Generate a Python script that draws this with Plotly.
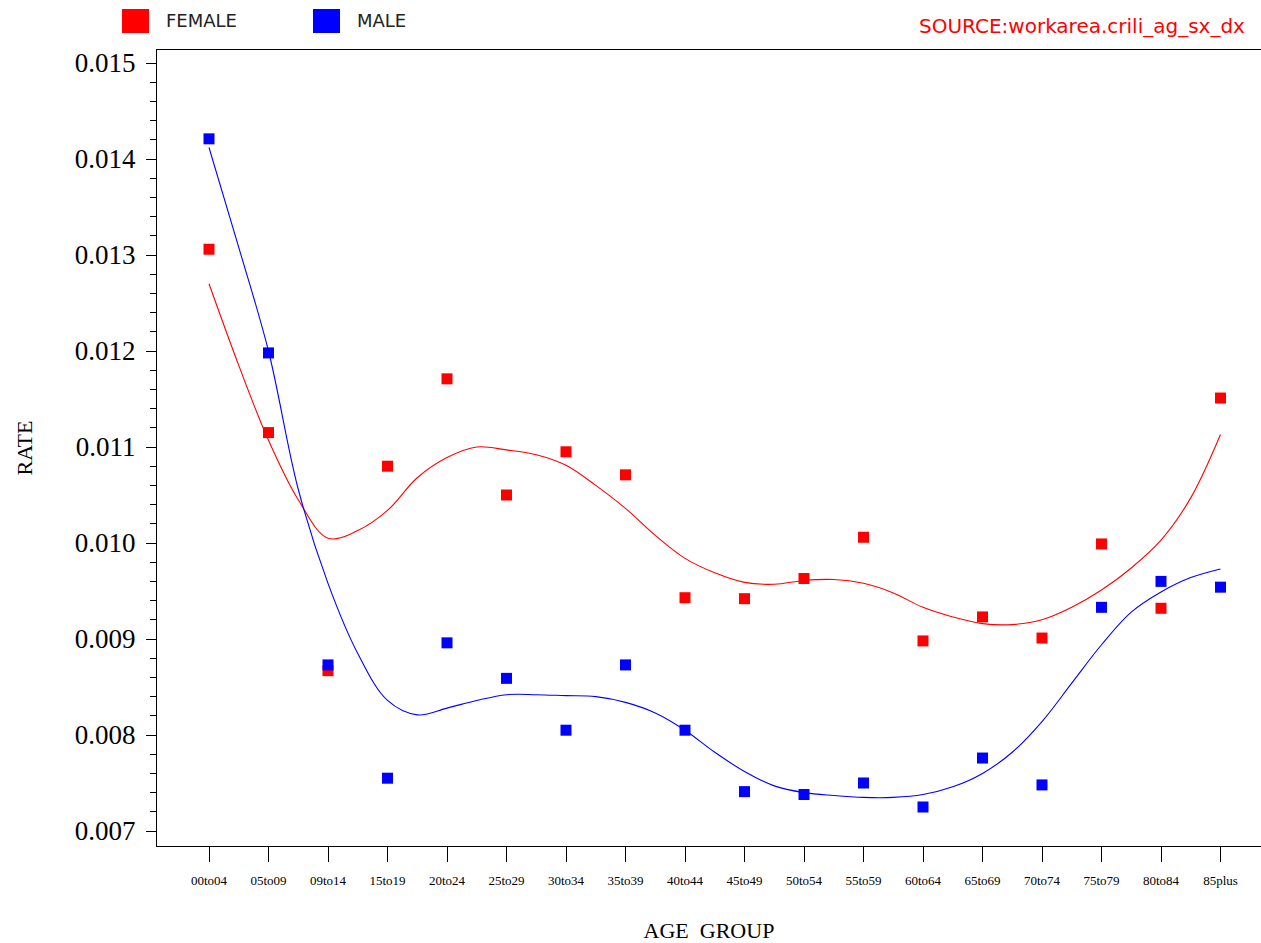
import plotly.graph_objects as go

# Age groups on the horizontal axis
age_groups = ["00to04", "05to09", "09to14", "15to19", "20to24", "25to29",
              "30to34", "35to39", "40to44", "45to49", "50to54", "55to59",
              "60to64", "65to69", "70to74", "75to79", "80to84", "85plus"]

# Observed rates by sex
female_rate = [0.01306, 0.01115, 0.00867, 0.01080, 0.01171, 0.01050,
               0.01095, 0.01071, 0.00943, 0.00942, 0.00963, 0.01006,
               0.00898, 0.00923, 0.00901, 0.00999, 0.00932, 0.01151]
male_rate = [0.01421, 0.01198, 0.00873, 0.00755, 0.00896, 0.00859,
             0.00805, 0.00873, 0.00805, 0.00741, 0.00738, 0.00750,
             0.00725, 0.00776, 0.00748, 0.00933, 0.00960, 0.00954]

# Smoothed fit, sampled at every half age-group step
fit_pos = [i / 2 for i in range(35)]
female_fit = [0.01270, 0.01185, 0.01107, 0.01045, 0.01005, 0.01013,
              0.01034, 0.01068, 0.01089, 0.01100, 0.01097, 0.01092,
              0.01081, 0.01060, 0.01036, 0.01008, 0.00984, 0.00969,
              0.00959, 0.00957, 0.00961, 0.00962, 0.00958, 0.00948,
              0.00933, 0.00923, 0.00916, 0.00915, 0.00920, 0.00933,
              0.00951, 0.00974, 0.01003, 0.01047, 0.01113]
male_fit = [0.01412, 0.01308, 0.01200, 0.01056, 0.00958, 0.00885,
            0.00836, 0.00821, 0.00828, 0.00836, 0.00842, 0.00842,
            0.00841, 0.00840, 0.00834, 0.00823, 0.00805, 0.00782,
            0.00762, 0.00747, 0.00740, 0.00737, 0.00735, 0.00735,
            0.00738, 0.00746, 0.00760, 0.00782, 0.00814, 0.00854,
            0.00894, 0.00928, 0.00949, 0.00964, 0.00973]

y_ticks = [0.007, 0.008, 0.009, 0.010, 0.011, 0.012, 0.013, 0.014, 0.015]

RED = "#ff0000"
BLUE = "#0000ff"
W, H = 1261, 943
L, R, T, B = 157, 0, 50, 97
PW, PH = W - L - R, H - T - B

xpos = list(range(len(age_groups)))

fig = go.Figure()
fig.add_trace(go.Scatter(x=fit_pos, y=female_fit, mode="lines",
                         line=dict(color=RED, width=1.1, shape="spline"),
                         hoverinfo="skip"))
fig.add_trace(go.Scatter(x=fit_pos, y=male_fit, mode="lines",
                         line=dict(color=BLUE, width=1.1, shape="spline"),
                         hoverinfo="skip"))
fig.add_trace(go.Scatter(x=xpos, y=female_rate, mode="markers", name="FEMALE",
                         marker=dict(symbol="square", size=11, color=RED,
                                     line=dict(width=0))))
fig.add_trace(go.Scatter(x=xpos, y=male_rate, mode="markers", name="MALE",
                         marker=dict(symbol="square", size=11, color=BLUE,
                                     line=dict(width=0))))

# axis ranges chosen so that one category step is ~59.5 px
step_px = 59.5
x0_px = 52
x_lo = -x0_px / step_px
x_hi = x_lo + PW / step_px
y_per_px = 0.001 / 96
y_lo = 0.007 - 15 * y_per_px
y_hi = y_lo + PH * y_per_px

serif = "Liberation Serif, Times New Roman, serif"
light_sans = "DejaVu Sans ExtraLight, DejaVu Sans, Liberation Sans, sans-serif"

fig.update_layout(
    width=W, height=H,
    margin=dict(l=L, r=R, t=T, b=B, pad=0),
    paper_bgcolor="white", plot_bgcolor="white",
    showlegend=False,
    xaxis=dict(range=[x_lo, x_hi], tickmode="array", tickvals=xpos,
               ticktext=age_groups, ticks="outside", ticklen=15,
               tickwidth=1.2, tickcolor="black", ticklabelstandoff=7,
               tickfont=dict(family=serif, size=13, color="black"),
               showgrid=False, zeroline=False, showline=True,
               linecolor="black", linewidth=1.2, mirror=True,
               title=dict(text="AGE  GROUP", standoff=36,
                          font=dict(family=serif, size=22, color="black"))),
    yaxis=dict(range=[y_lo, y_hi], tickmode="array", tickvals=y_ticks,
               ticktext=[f"{v:.3f}" for v in y_ticks],
               ticks="outside", ticklen=10, tickwidth=1.2, tickcolor="black",
               ticklabelstandoff=5,
               minor=dict(dtick=0.0002, ticks="outside", ticklen=6,
                          tickwidth=1, tickcolor="black", showgrid=False),
               tickfont=dict(family=serif, size=27, color="black"),
               showgrid=False, zeroline=False, showline=True,
               linecolor="black", linewidth=1.2, mirror=False,
               title=dict(text="RATE", standoff=36,
                          font=dict(family=serif, size=22, color="black"))),
)

# legend swatches and labels above the frame
def px_x(px):
    return (px - L) / PW

def px_y(py):
    return (H - B - py) / PH

legend_items = [("FEMALE", RED, 122), ("MALE", BLUE, 313)]
for label, color, left in legend_items:
    fig.add_shape(type="rect", xref="paper", yref="paper",
                  x0=px_x(left), x1=px_x(left + 27),
                  y0=px_y(33), y1=px_y(9),
                  fillcolor=color, line=dict(width=0))
    fig.add_annotation(x=px_x(left + 42), y=px_y(21), xref="paper",
                       yref="paper", text=label, showarrow=False,
                       xanchor="left", yanchor="middle",
                       font=dict(family=light_sans, size=18, color="#222222"))

fig.add_annotation(x=px_x(1247), y=px_y(26), xref="paper", yref="paper",
                   text="SOURCE:workarea.crili_ag_sx_dx", showarrow=False,
                   xanchor="right", yanchor="middle",
                   font=dict(family=light_sans, size=20, color=RED))

fig.write_html("out.html")
